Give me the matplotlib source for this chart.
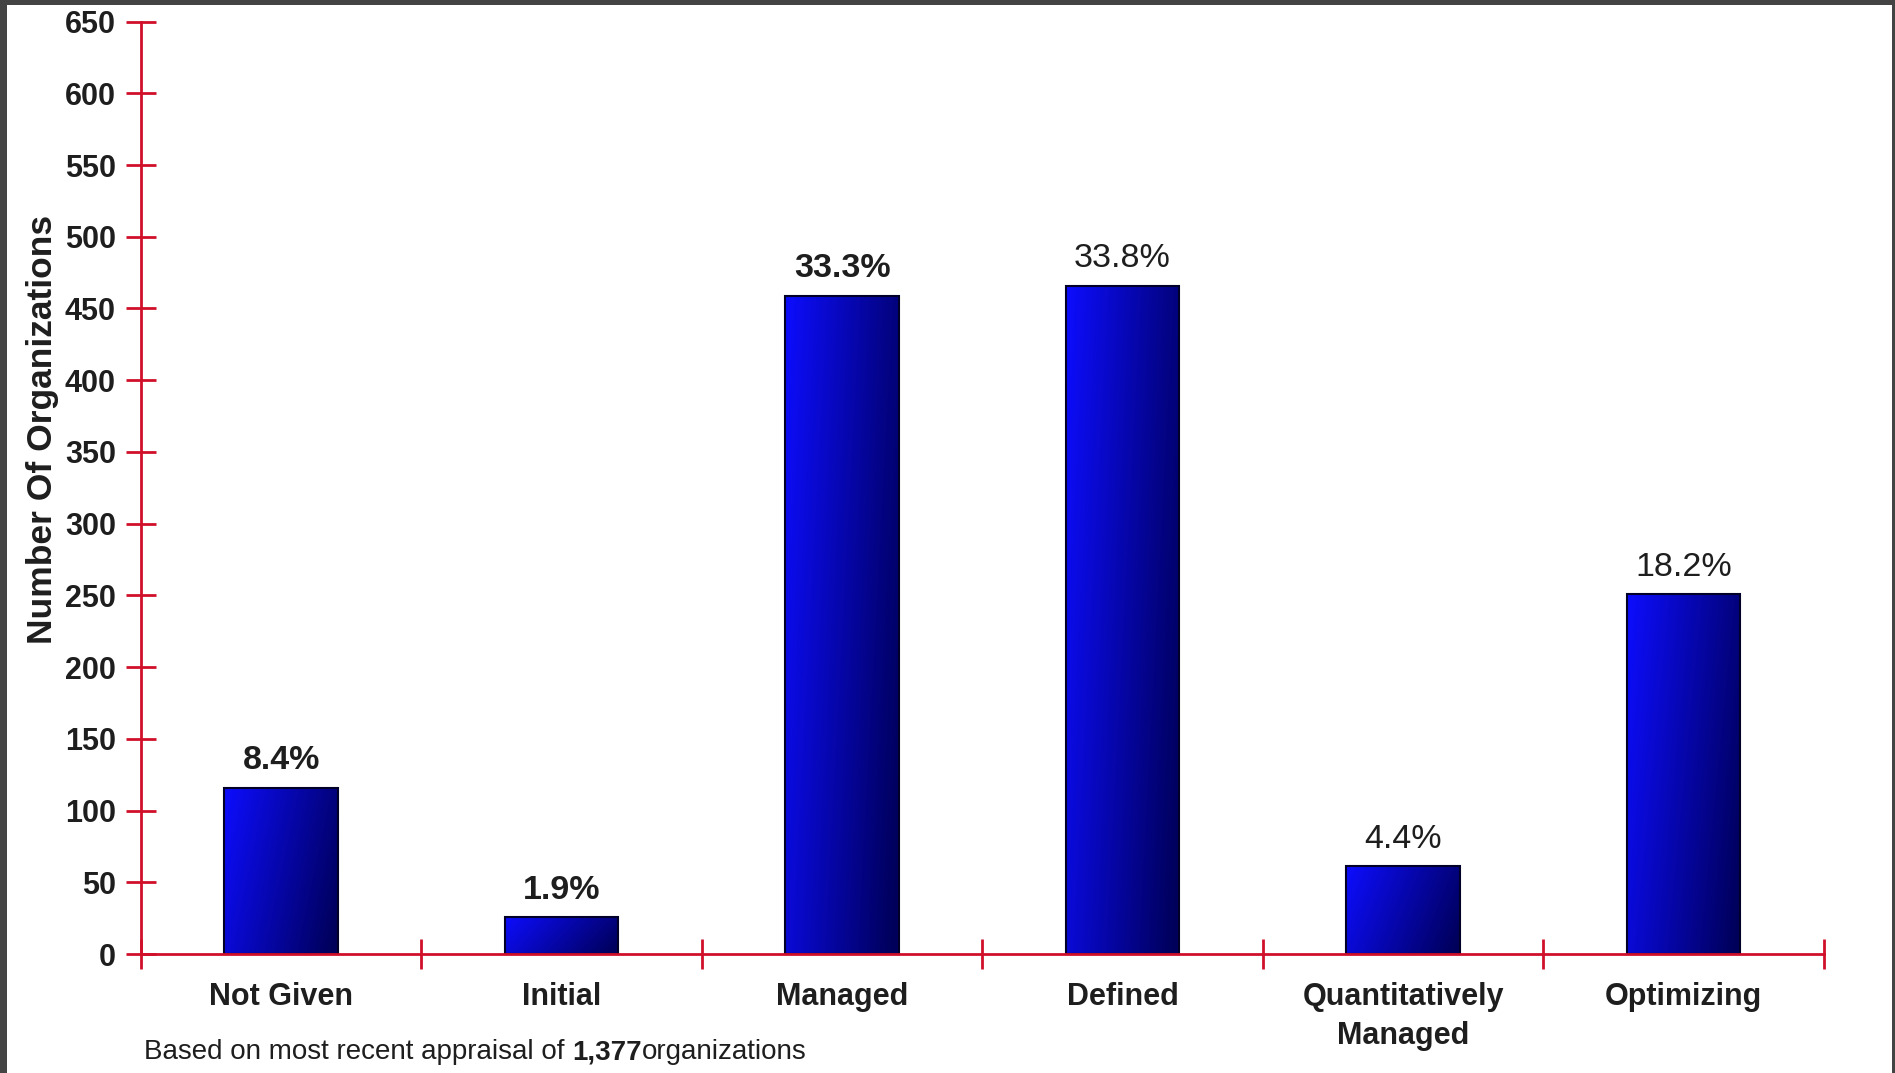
# Organizations by maturity level (most recent appraisal)
import numpy as np
import matplotlib
matplotlib.use("Agg")
import matplotlib.pyplot as plt
from matplotlib.patches import Rectangle

categories = ["Not Given", "Initial", "Managed", "Defined",
              "Quantitatively\nManaged", "Optimizing"]
counts = [116, 26, 459, 466, 61, 251]
pct_labels = ["8.4%", "1.9%", "33.3%", "33.8%", "4.4%", "18.2%"]
pct_weights = ["bold", "bold", "bold", "normal", "normal", "normal"]
yticks = list(range(0, 651, 50))

red = "#d0102a"
txt = "#1e1e1e"
plt.rcParams["font.family"] = ["Liberation Sans", "DejaVu Sans"]

fig = plt.figure(figsize=(18.95, 10.73), dpi=100)
ax = fig.add_axes([0.0744, 0.1109, 0.888, 0.869])

x = np.arange(len(categories))
bw = 0.405
bars = ax.bar(x, counts, bw, facecolor="none", edgecolor="#000028", linewidth=1.5, zorder=3)

# gradient fill: bright blue top-left -> navy bottom-right
u = np.linspace(0, 1, 120)
v = np.linspace(0, 1, 200)
U, V = np.meshgrid(u, v)
t = np.clip(0.8 * U + 0.25 * V, 0, 1)  # V=0 at top row
c0 = np.array([0.05, 0.05, 1.0])
c1 = np.array([0.0, 0.0, 0.36])
img = c0 * (1 - t[..., None]) + c1 * t[..., None]
for b in bars:
    x0 = b.get_x()
    h = b.get_height()
    im = ax.imshow(img, extent=[x0, x0 + bw, 0, h], aspect="auto", zorder=2,
                   interpolation="bilinear")
    im.set_clip_path(b)

for xi, c, lab, w in zip(x, counts, pct_labels, pct_weights):
    ax.annotate(lab, (xi, c), xytext=(0, 8), textcoords="offset points",
                ha="center", va="bottom", fontsize=24.5, weight=w, color=txt)

ax.set_xlim(-0.5, len(categories) - 0.5)
ax.set_ylim(0, 650)
ax.set_yticks(yticks)
ax.set_xticks(x)
ax.set_xticklabels(categories, fontsize=22, weight="bold", color=txt, linespacing=1.4)
ax.set_xticks(np.arange(-0.5, len(categories)), minor=True)
ax.tick_params(axis="x", which="major", length=0, pad=20)
ax.tick_params(axis="x", which="minor", direction="inout", length=22, width=2, color=red)
ax.tick_params(axis="y", direction="inout", length=22, width=2, color=red,
               labelsize=22, labelcolor=txt, pad=7)
for lab in ax.get_yticklabels():
    lab.set_fontweight("bold")

for s in ["top", "right"]:
    ax.spines[s].set_visible(False)
for s in ["left", "bottom"]:
    ax.spines[s].set_color(red)
    ax.spines[s].set_linewidth(2)
    ax.spines[s].set_zorder(4)

fig.text(0.0222, 0.600, "Number Of Organizations", rotation=90, ha="center", va="center",
         fontsize=25.5, weight="bold", color=txt)

# footnote with bold count
fig.canvas.draw()
r = fig.canvas.get_renderer()
fx, fy = 0.076, 0.0195
parts = [("Based on most recent appraisal of ", "normal"), ("1,377", "bold"), ("organizations", "normal")]
for s, w in parts:
    tt = fig.text(fx, fy, s, ha="left", va="center", fontsize=20, weight=w, color=txt)
    bb = tt.get_window_extent(renderer=r)
    fx = bb.x1 / fig.bbox.width

# dark frame around the screenshot
for rect in [(0, 1 - 5 / 1073, 1, 5 / 1073), (0, 0, 7 / 1895, 1), (1 - 3 / 1895, 0, 3 / 1895, 1)]:
    fig.patches.append(Rectangle(rect[:2], rect[2], rect[3], transform=fig.transFigure,
                                 facecolor="#444444", edgecolor="none", zorder=10))

fig.savefig("out.png", dpi=100)
